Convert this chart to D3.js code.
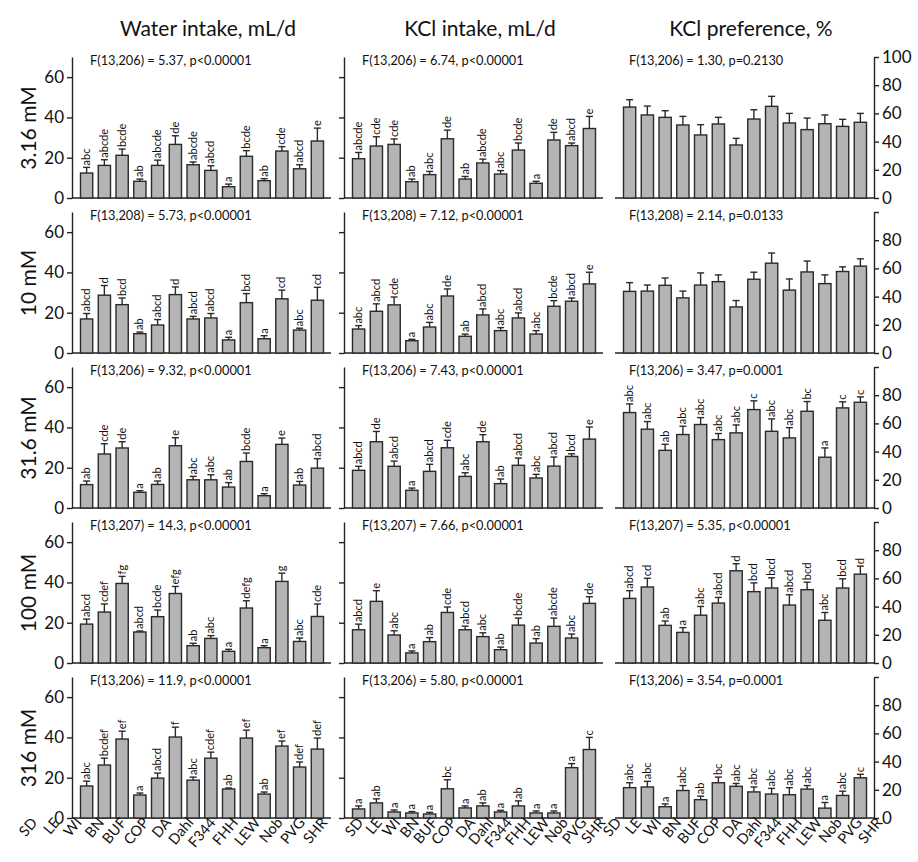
<!DOCTYPE html>
<html><head><meta charset="utf-8">
<script src="https://cdn.jsdelivr.net/npm/d3@7"></script>
<style>body{margin:0;background:#fff} text{font-family:Lato,"Open Sans",sans-serif;fill:#111}</style>
</head><body><svg id="c" width="918" height="862"></svg>
<script>
const strains=["SD","LE","WI","BN","BUF","COP","DA","Dahl","F344","FHH","LEW","Nob","PVG","SHR"];
const concentrations=["3.16 mM","10 mM","31.6 mM","100 mM","316 mM"];

const waterMean=[
 [12.4,16.2,21.2,8.3,16.2,26.6,16.5,13.7,5.6,20.7,8.6,23.3,14.5,28.3],
 [16.9,28.7,24.0,9.6,13.9,29.0,16.9,17.4,6.5,25.0,7.1,26.9,11.4,26.2],
 [11.6,26.8,29.8,7.8,11.7,30.9,14.0,14.0,10.4,23.1,6.1,31.6,11.4,19.8],
 [19.3,25.3,39.5,15.4,23.0,34.5,8.6,12.2,5.8,27.3,7.6,40.5,10.7,23.1],
 [15.9,26.3,39.2,11.4,19.8,40.2,18.8,29.7,14.4,39.7,11.9,35.7,25.3,34.2]];
const waterSE=[
 [2.8,2.8,3.1,1.1,2.6,4.3,1.4,2.3,1.3,2.8,1.0,2.2,2.0,6.4],
 [2.7,4.8,3.3,0.8,2.7,3.8,1.3,2.2,1.3,4.5,1.5,4.3,0.9,6.4],
 [1.8,5.1,3.1,0.8,1.7,4.0,1.7,2.5,2.2,4.2,1.0,3.1,1.8,4.7],
 [2.5,4.0,3.5,0.5,3.3,3.5,1.2,1.4,1.0,3.6,1.0,4.1,1.7,6.2],
 [2.4,3.4,3.9,1.0,2.5,4.9,1.5,3.0,0.5,3.9,1.0,2.5,2.5,5.5]];
const waterLetters=[
 ["abc","abcde","bcde","ab","abcde","de","abcde","abcd","a","bcde","ab","cde","abcd","e"],
 ["abcd","d","bcd","ab","abcd","d","abcd","abcd","a","bcd","a","cd","abc","cd"],
 ["ab","cde","de","a","ab","e","abc","abc","ab","bcde","a","e","ab","abcd"],
 ["abcd","cdef","fg","abcd","bcde","efg","ab","abc","a","defg","a","g","abc","cde"],
 ["abc","bcdef","ef","a","abcd","f","abc","cdef","ab","ef","ab","ef","def","def"]];
const waterStats=["F(13,206) = 5.37, p<0.00001","F(13,208) = 5.73, p<0.00001","F(13,206) = 9.32, p<0.00001","F(13,207) = 14.3, p<0.00001","F(13,206) = 11.9, p<0.00001"];

const kclMean=[
 [19.5,25.8,26.6,8.1,11.6,29.4,9.4,17.4,11.9,23.8,7.3,28.8,26.0,34.5],
 [11.9,20.7,23.9,6.1,12.9,28.3,8.3,18.9,11.1,17.4,9.4,23.2,25.7,34.3],
 [18.7,32.9,20.7,8.8,18.2,29.9,15.7,32.9,12.1,21.2,14.9,20.8,25.6,34.2],
 [16.5,30.6,13.9,5.0,10.6,25.1,16.5,13.1,6.6,18.8,9.9,18.2,12.4,29.6],
 [4.5,7.5,3.0,2.5,2.0,14.5,5.0,6.0,3.0,6.0,2.5,2.5,25.0,34.0]];
const kclSE=[
 [3.1,4.6,2.7,1.3,1.6,4.3,1.3,1.9,1.7,3.5,1.0,3.8,1.3,6.0],
 [1.7,3.7,3.9,0.7,2.3,3.5,1.1,3.0,1.5,2.5,1.7,2.8,1.6,5.8],
 [2.0,5.1,2.6,1.1,3.5,3.7,1.8,3.5,2.3,3.6,1.8,4.5,1.3,6.0],
 [2.8,5.3,2.1,1.0,2.0,2.7,1.8,1.9,1.3,3.5,2.2,4.1,2.0,3.3],
 [1.5,2.0,1.0,0.7,0.8,4.5,1.0,1.5,0.8,2.5,1.0,1.0,2.0,6.0]];
const kclLetters=[
 ["abcde","cde","cde","ab","abc","de","ab","abcde","abc","bcde","a","de","abcd","e"],
 ["abc","abcd","cde","a","abc","de","ab","abcd","abc","abcd","abc","bcde","abcd","e"],
 ["abcd","de","abcd","a","abcd","cde","abc","de","ab","abcd","abc","abcd","bcd","e"],
 ["abcd","e","abc","a","ab","cde","abcd","abc","ab","bcde","ab","abcde","abc","de"],
 ["a","ab","a","a","a","bc","a","ab","a","ab","a","a","a","c"]];
const kclStats=["F(13,206) = 6.74, p<0.00001","F(13,208) = 7.12, p<0.00001","F(13,206) = 7.43, p<0.00001","F(13,207) = 7.66, p<0.00001","F(13,206) = 5.80, p<0.00001"];

const prefMean=[
 [64.5,58.9,57.2,51.8,44.7,52.5,37.6,56.0,65.0,53.2,48.5,52.7,50.8,53.7],
 [43.7,43.9,48.0,39.1,48.2,50.6,32.7,52.3,63.7,44.6,57.5,49.2,57.8,61.6],
 [67.7,55.9,40.9,52.1,59.2,48.5,53.3,69.8,54.4,49.7,68.6,36.0,71.0,75.0],
 [45.8,53.9,26.7,21.7,33.9,42.5,65.4,50.6,53.2,41.1,52.0,30.3,53.2,63.0],
 [21.5,22.0,8.0,19.5,13.0,25.0,22.5,18.5,17.0,16.5,20.5,7.0,16.0,28.5]];
const prefSE=[
 [5.2,6.3,4.7,6.1,7.3,4.7,4.7,6.6,7.1,6.8,8.2,6.2,5.0,6.3],
 [6.2,4.3,5.2,4.8,8.6,4.8,4.5,5.0,7.2,7.9,7.7,6.2,3.3,5.2],
 [6.1,5.4,4.3,5.9,4.9,4.3,5.6,6.2,8.8,7.3,6.9,6.6,4.3,3.8],
 [5.5,6.2,3.1,3.4,6.2,4.0,5.0,6.2,7.2,7.3,5.3,5.5,6.5,5.7],
 [3.5,4.0,2.0,3.5,2.5,4.0,2.0,3.5,4.0,5.0,2.5,4.0,3.0,2.5]];
const prefLetters=[
 null,
 null,
 ["abc","abc","ab","abc","abc","abc","abc","c","abc","abc","bc","a","c","c"],
 ["abcd","cd","ab","a","abc","abcd","d","bcd","bcd","abcd","bcd","abc","bcd","d"],
 ["abc","abc","a","abc","ab","bc","abc","abc","abc","abc","abc","a","abc","c"]];
const prefStats=["F(13,206) = 1.30, p=0.2130","F(13,208) = 2.14, p=0.0133","F(13,206) = 3.47, p=0.0001","F(13,207) = 5.35, p<0.00001","F(13,206) = 3.54, p=0.0001"];

const columnTitles=["Water intake, mL/d","KCl intake, mL/d","KCl preference, %"];
const leftTicks=[0,20,40,60];
const rightTicks=[0,20,40,60,80,100];

const svg=d3.select("#c");
const colX=[72,344,615], plotW=259, plotH=141;
const rowBase=concentrations.map((c,i)=>198+155*i);
const labelSpan=[[-34,256],[20,262],[7,268]];
const measures=[
 {mean:waterMean,se:waterSE,letters:waterLetters,stats:waterStats,max:70,kind:"left"},
 {mean:kclMean,se:kclSE,letters:kclLetters,stats:kclStats,max:70,kind:"mid"},
 {mean:prefMean,se:prefSE,letters:prefLetters,stats:prefStats,max:100,kind:"right"}];

columnTitles.forEach((t,c)=>{
  svg.append("text").attr("x",colX[c]+136).attr("y",36).attr("text-anchor","middle")
    .attr("font-size",21).text(t);
});
concentrations.forEach((t,r)=>{
  svg.append("text").attr("transform",`translate(36,${rowBase[r]-70}) rotate(-90)`)
    .attr("text-anchor","middle").attr("font-size",21).text(t);
});

const x=d3.scaleBand().domain(strains).range([8.5,251.5]).paddingInner(0.31).paddingOuter(0);

measures.forEach((m,c)=>{
  const xl=d3.scalePoint().domain(strains).range(labelSpan[c]);
  concentrations.forEach((conc,r)=>{
    const g=svg.append("g").attr("transform",`translate(${colX[c]},${rowBase[r]-plotH})`);
    const y=d3.scaleLinear().domain([0,m.max]).range([plotH,0]);
    if(m.kind==="right"){
      const ax=d3.axisRight(y).tickValues(rightTicks).tickSize(5).tickSizeOuter(0).tickPadding(3)
        .tickFormat(d=> (d===100 && r>0)?"":d);
      const a=g.append("g").attr("transform",`translate(${plotW},0)`).call(ax);
      a.selectAll("text").attr("font-size",17).attr("font-family","Lato,'Open Sans',sans-serif");
      a.selectAll("path,line").attr("stroke","#222").attr("stroke-width",1.4);
    } else {
      const ax=d3.axisLeft(y).tickValues(leftTicks).tickSize(5).tickSizeOuter(0).tickPadding(3)
        .tickFormat(m.kind==="left"?(d=>d):(d=>""));
      const a=g.append("g").call(ax);
      a.selectAll("text").attr("font-size",17).attr("font-family","Lato,'Open Sans',sans-serif");
      a.selectAll("path,line").attr("stroke","#222").attr("stroke-width",1.4);
    }
    g.append("line").attr("x1",0).attr("x2",plotW).attr("y1",y(0)).attr("y2",y(0))
      .attr("stroke","#222").attr("stroke-width",1.4);
    const data=strains.map((s,i)=>({s,mean:m.mean[r][i],se:m.se[r][i],lab:m.letters[r]?m.letters[r][i]:""}));
    g.selectAll("rect.bar").data(data).join("rect").attr("class","bar")
      .attr("x",d=>x(d.s)).attr("width",x.bandwidth())
      .attr("y",d=>y(d.mean)).attr("height",d=>y(0)-y(d.mean))
      .attr("fill","#b4b4b4").attr("stroke","#2a2a2a").attr("stroke-width",1.4);
    const cx=d=>x(d.s)+x.bandwidth()/2;
    g.selectAll("line.err").data(data).join("line").attr("class","err")
      .attr("x1",cx).attr("x2",cx).attr("y1",d=>y(d.mean)).attr("y2",d=>y(d.mean+d.se))
      .attr("stroke","#2a2a2a").attr("stroke-width",1.4);
    g.selectAll("line.cap").data(data).join("line").attr("class","cap")
      .attr("x1",d=>cx(d)-3.5).attr("x2",d=>cx(d)+3.5).attr("y1",d=>y(d.mean+d.se)).attr("y2",d=>y(d.mean+d.se))
      .attr("stroke","#2a2a2a").attr("stroke-width",1.4);
    g.selectAll("text.let").data(data).join("text").attr("class","let")
      .attr("transform",d=>`translate(${cx(d)+3.6},${y(d.mean+d.se)-2}) rotate(-90)`)
      .attr("font-size",11).attr("text-anchor","start").text(d=>d.lab);
    g.append("text").attr("x",c===2?14:18).attr("y",8).attr("font-size",12.8).text(m.stats[r]);
    if(r===concentrations.length-1){
      g.selectAll("text.xl").data(strains).join("text").attr("class","xl")
        .attr("transform",d=>`translate(${xl(d)},${plotH+5}) rotate(-50)`)
        .attr("text-anchor","end").attr("font-size",14.5).text(d=>d);
    }
  });
});
</script></body></html>
